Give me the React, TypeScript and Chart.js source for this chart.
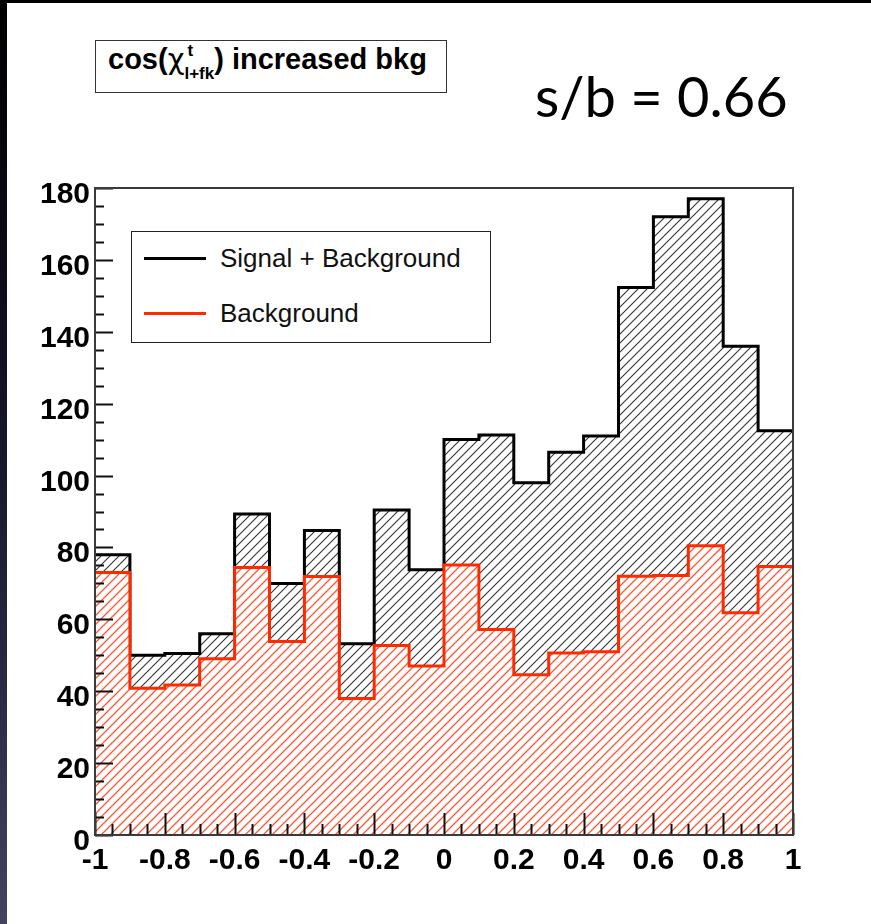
import React, { useEffect, useRef } from "react";
import { Chart, registerables } from "chart.js";

Chart.register(...registerables);

// ---- data ----
const binEdges = [-1, -0.9, -0.8, -0.7, -0.6, -0.5, -0.4, -0.3, -0.2, -0.1, 0, 0.1, 0.2, 0.3, 0.4, 0.5, 0.6, 0.7, 0.8, 0.9, 1];
const signalPlusBackground = [78, 50, 50.5, 56, 89.3, 70, 84.7, 53.2, 90.4, 73.8, 110, 111.3, 98, 106.5, 111, 152.3, 172, 177, 136, 112.5];
const background = [73, 40.8, 41.7, 49, 74.4, 53.8, 71.9, 38, 52.7, 47, 75.1, 57.2, 44.6, 50.6, 51, 72, 72.2, 80.5, 61.8, 74.7];
const seriesLabels = ["Signal + Background", "Background"];
const xTickValues = [-1, -0.8, -0.6, -0.4, -0.2, 0, 0.2, 0.4, 0.6, 0.8, 1];
const xTickLabels = ["-1", "-0.8", "-0.6", "-0.4", "-0.2", "0", "0.2", "0.4", "0.6", "0.8", "1"];
const yTickValues = [0, 20, 40, 60, 80, 100, 120, 140, 160, 180];
const yTickLabels = ["0", "20", "40", "60", "80", "100", "120", "140", "160", "180"];
const titleMain = "cos(";
const titleChi = "χ";
const titleSup = "t";
const titleSub = "l+fk";
const titleRest = ") increased bkg";
const ratioText = "s/b = 0.66";

const RED = "#ff2a00";

function stepPoints(vals: number[]) {
  const pts = vals.map((v, i) => ({ x: binEdges[i], y: v }));
  pts.push({ x: binEdges[binEdges.length - 1], y: vals[vals.length - 1] });
  return pts;
}

function makeHatch(color: string, lw: number) {
  const s = 9;
  const c = document.createElement("canvas");
  c.width = s;
  c.height = s;
  const g = c.getContext("2d")!;
  g.fillStyle = "#ffffff";
  g.fillRect(0, 0, s, s);
  g.strokeStyle = color;
  g.lineWidth = lw;
  g.beginPath();
  g.moveTo(-1, s + 1);
  g.lineTo(s + 1, -1);
  g.moveTo(-1, 1);
  g.lineTo(1, -1);
  g.moveTo(s - 1, s + 1);
  g.lineTo(s + 1, s - 1);
  g.stroke();
  return g.createPattern(c, "repeat")!;
}

const framePlugin = {
  id: "rootFrame",
  afterDatasetsDraw(chart: any) {
    const { ctx, chartArea: a, scales } = chart;
    const xs = scales.x;
    const ys = scales.y;
    ctx.save();
    // ticks
    ctx.strokeStyle = "#111";
    ctx.lineWidth = 2;
    ctx.beginPath();
    for (let k = 0; k <= 40; k++) {
      const v = -1 + k * 0.05;
      const px = Math.round(xs.getPixelForValue(v)) + 0.5;
      const len = k % 4 === 0 ? 22 : 11;
      ctx.moveTo(px, a.bottom);
      ctx.lineTo(px, a.bottom - len);
    }
    for (let k = 0; k <= 36; k++) {
      const v = k * 5;
      const py = Math.round(ys.getPixelForValue(v)) + 0.5;
      const len = k % 4 === 0 ? 18 : 9;
      ctx.moveTo(a.left, py);
      ctx.lineTo(a.left + len, py);
    }
    ctx.stroke();
    // frame
    ctx.strokeStyle = "#3a3a3a";
    ctx.lineWidth = 2;
    ctx.strokeRect(a.left, a.top, a.right - a.left, a.bottom - a.top);
    // labels
    ctx.fillStyle = "#000";
    ctx.font = 'bold 30px "Liberation Sans", Arial, sans-serif';
    ctx.textBaseline = "alphabetic";
    ctx.textAlign = "center";
    xTickValues.forEach((v, i) => {
      ctx.fillText(xTickLabels[i], xs.getPixelForValue(v), 869);
    });
    ctx.textAlign = "right";
    yTickValues.forEach((v, i) => {
      ctx.fillText(yTickLabels[i], a.left - 5, ys.getPixelForValue(v) + 15);
    });
    ctx.restore();
  },
};

export default function App() {
  const ref = useRef<HTMLCanvasElement | null>(null);

  useEffect(() => {
    document.body.style.margin = "0";
    const canvas = ref.current!;
    const chart = new Chart(canvas, {
      type: "line",
      data: {
        datasets: [
          {
            label: seriesLabels[1],
            data: stepPoints(background),
            borderColor: RED,
            borderWidth: 3,
            backgroundColor: makeHatch("#ff5533", 1.3),
            fill: "origin",
            stepped: "before",
            pointRadius: 0,
            borderJoinStyle: "miter",
          },
          {
            label: seriesLabels[0],
            data: stepPoints(signalPlusBackground),
            borderColor: "#000",
            borderWidth: 3,
            backgroundColor: makeHatch("#333333", 1.1),
            fill: "origin",
            stepped: "before",
            pointRadius: 0,
            borderJoinStyle: "miter",
          },
        ],
      },
      options: {
        responsive: false,
        animation: false,
        devicePixelRatio: 1,
        layout: { padding: { left: 95, right: 78, top: 188, bottom: 89 } },
        plugins: { legend: { display: false }, tooltip: { enabled: false } },
        scales: {
          x: { type: "linear", min: -1, max: 1, display: false },
          y: { type: "linear", min: 0, max: 180, display: false },
        },
      },
      plugins: [framePlugin],
    } as any);
    return () => chart.destroy();
  }, []);

  const sans = '"Liberation Sans", Arial, Helvetica, sans-serif';

  return (
    <div style={{ position: "relative", width: 871, height: 924, background: "#fff", overflow: "hidden" }}>
      <canvas ref={ref} width={871} height={924} style={{ position: "absolute", left: 0, top: 0, width: 871, height: 924 }} />
      <div style={{ position: "absolute", left: 0, top: 0, width: 871, height: 3, background: "#000" }} />
      <div
        style={{
          position: "absolute",
          left: 0,
          top: 0,
          width: 7,
          height: 924,
          background: "linear-gradient(#000000 0%, #111122 40%, #2a2a44 75%, #44445e 100%)",
        }}
      />
      {/* title box */}
      <div
        style={{
          position: "absolute",
          left: 95,
          top: 40,
          width: 350,
          height: 51,
          border: "1.5px solid #333",
          background: "#fff",
        }}
      />
      <div
        style={{
          position: "absolute",
          left: 108,
          top: 45,
          font: `bold 29px ${sans}`,
          lineHeight: "1",
          whiteSpace: "nowrap",
          color: "#000",
        }}
      >
        {titleMain}
        <span style={{ fontWeight: 400, fontFamily: '"DejaVu Sans", sans-serif' }}>{titleChi}</span>
        <span style={{ display: "inline-block", position: "relative", fontSize: 17 }}>
          <span style={{ position: "relative", top: 10 }}>{titleSub}</span>
          <span style={{ position: "absolute", left: 3, top: -13 }}>{titleSup}</span>
        </span>
        {titleRest}
      </div>
      {/* s/b */}
      <div
        style={{
          position: "absolute",
          left: 535,
          top: 68,
          font: '400 56px Lato, "Open Sans", sans-serif',
          lineHeight: "1",
          whiteSpace: "nowrap",
          color: "#000",
        }}
      >
        {ratioText}
      </div>
      {/* legend */}
      <div
        style={{
          position: "absolute",
          left: 131,
          top: 231,
          width: 358,
          height: 110,
          border: "1.5px solid #222",
          background: "#fff",
        }}
      />
      <div style={{ position: "absolute", left: 144, top: 256.5, width: 62, height: 3, background: "#000" }} />
      <div style={{ position: "absolute", left: 144, top: 311.5, width: 62, height: 3, background: RED }} />
      <div style={{ position: "absolute", left: 220, top: 245, font: `400 26px ${sans}`, lineHeight: "1", whiteSpace: "nowrap", color: "#111" }}>
        {seriesLabels[0]}
      </div>
      <div style={{ position: "absolute", left: 220, top: 300, font: `400 26px ${sans}`, lineHeight: "1", whiteSpace: "nowrap", color: "#111" }}>
        {seriesLabels[1]}
      </div>
    </div>
  );
}
